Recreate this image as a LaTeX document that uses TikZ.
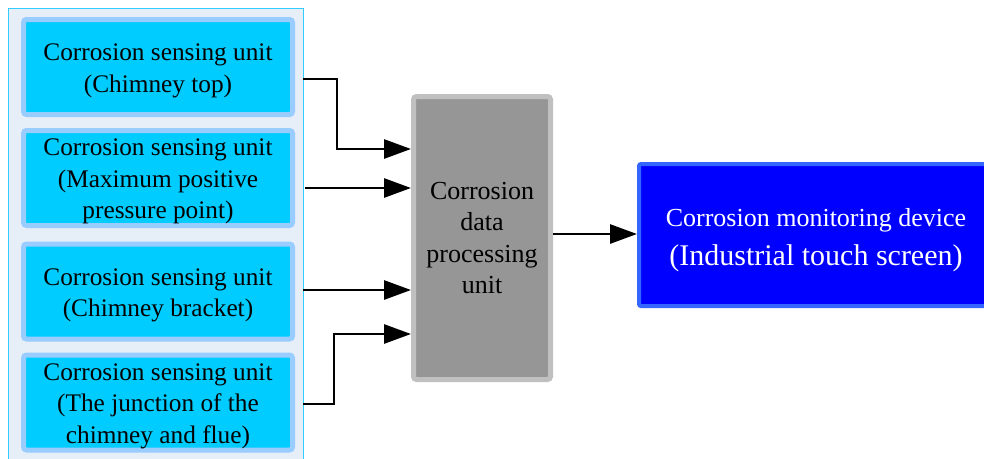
\documentclass[tikz,border=0pt]{standalone}
\usepackage{fontspec}
\setmainfont{Liberation Serif}
\usetikzlibrary{arrows.meta,calc}
\definecolor{contfill}{HTML}{E6EEF8}
\definecolor{contline}{HTML}{33CCFF}
\definecolor{sensline}{HTML}{99CCFF}
\definecolor{sensfill}{HTML}{00CCFF}
\definecolor{procline}{HTML}{C0C0C0}
\definecolor{procfill}{HTML}{969696}
\definecolor{monline}{HTML}{3366FF}
\definecolor{monfill}{HTML}{0000FF}
\tikzset{
  container/.style={draw=contline, fill=contfill, line width=1pt, minimum width=295pt, minimum height=467pt, inner sep=0pt},
  sensor/.style={draw=sensline, fill=sensfill, line width=5pt, rounded corners=3pt, minimum width=269pt, minimum height=95pt, inner sep=0pt, align=center, font=\fontsize{25.3}{31.5}\selectfont},
  proc/.style={draw=procline, fill=procfill, line width=5pt, rounded corners=3pt, minimum width=137pt, minimum height=283pt, inner sep=0pt, align=center, font=\fontsize{26}{31.5}\selectfont},
  mon/.style={draw=monline, fill=monfill, line width=4pt, rounded corners=2pt, minimum width=354pt, minimum height=142pt, inner sep=0pt, align=center, text=white, font=\fontsize{30}{38}\selectfont},
  conn/.style={draw, line width=2.8pt, -{Triangle[length=27pt,width=19pt]}}
}
\newcommand{\upstrut}[1]{\rule{0pt}{#1}}
\begin{document}
\begin{tikzpicture}[x=1pt,y=-1pt]
\useasboundingbox (0,0) rectangle (984,458);
\fill[white] (0,0) rectangle (984,458);
\node[container] (cont) at (155.5,241.5) {};
\node[sensor] (s1) at (158,67) {\upstrut{24pt}Corrosion sensing unit\\(Chimney top)};
\node[sensor] (s2) at (158,178) {\upstrut{24pt}Corrosion sensing unit\\(Maximum positive\\pressure point)};
\node[sensor] (s3) at (158,291.5) {\upstrut{24pt}Corrosion sensing unit\\(Chimney bracket)};
\node[sensor] (s4) at (158,402.5) {\upstrut{24pt}Corrosion sensing unit\\(The junction of the\\chimney and flue)};
\node[proc] (p) at (482,238) {Corrosion\\data\\processing\\unit};
\node[mon] (m) at (816,235) {{\fontsize{26}{38}\selectfont\upstrut{28pt}Corrosion monitoring device}\\[1pt](Industrial touch screen)};
\coordinate (o1) at (303,79);
\coordinate (o2) at (305,188);
\coordinate (o3) at (303,290);
\coordinate (o4) at (303,404);
\coordinate (pe) at ($(p.east)+(0,-4)$);
\draw[conn] (o1) -- ++(34,0) |- ($(p.west)+(0,-89)$);
\draw[conn] (o2) -- (p.west |- o2);
\draw[conn] (o3) -- (p.west |- o3);
\draw[conn] (o4) -- ++(31,0) |- ($(p.west)+(0,96)$);
\draw[conn] (pe) -- (m.west |- pe);
\end{tikzpicture}
\end{document}
